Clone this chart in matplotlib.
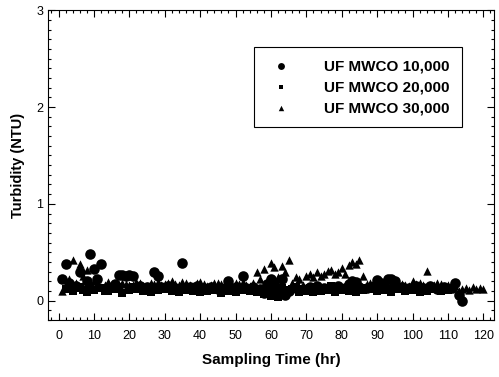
import matplotlib
matplotlib.use("Agg")
import matplotlib.pyplot as plt
from matplotlib.ticker import MultipleLocator

plt.rcParams['font.family'] = ['Liberation Sans', 'DejaVu Sans']

# UF MWCO 10,000 (circles)
c_x = [1, 2, 3, 5, 6, 8, 9, 10, 11, 12, 14, 16, 17, 18, 19, 20, 21, 23, 25, 27, 28, 29,
       31, 33, 35, 37, 39, 41, 43, 45, 47, 48, 50, 52, 53, 55, 57, 58, 59, 60, 61, 62,
       63, 64, 65, 67, 69, 71, 73, 75, 77, 79, 81, 82, 83, 84, 85, 87, 89, 90, 91, 92,
       93, 94, 95, 97, 99, 101, 103, 105, 107, 109, 111, 112, 113, 114]
c_y = [0.22, 0.38, 0.18, 0.15, 0.30, 0.20, 0.48, 0.33, 0.22, 0.38, 0.14, 0.17, 0.27, 0.27,
       0.26, 0.27, 0.26, 0.15, 0.14, 0.30, 0.25, 0.14, 0.15, 0.13, 0.39, 0.14, 0.15, 0.13,
       0.14, 0.12, 0.13, 0.20, 0.14, 0.25, 0.13, 0.14, 0.12, 0.08, 0.17, 0.22, 0.18, 0.06,
       0.22, 0.06, 0.10, 0.13, 0.12, 0.14, 0.15, 0.13, 0.14, 0.15, 0.13, 0.17, 0.20, 0.19,
       0.14, 0.13, 0.15, 0.21, 0.18, 0.16, 0.22, 0.22, 0.20, 0.14, 0.13, 0.15, 0.13, 0.15,
       0.12, 0.14, 0.13, 0.18, 0.06, 0.00]

# UF MWCO 20,000 (squares)
s_x = [2, 3, 4, 5, 6, 7, 8, 9, 10, 12, 13, 14, 16, 17, 18, 20, 21, 22, 24, 25, 26, 28, 29,
       30, 32, 33, 34, 36, 37, 38, 40, 41, 42, 44, 45, 46, 48, 49, 50, 52, 53, 54, 56, 57,
       58, 59, 60, 61, 62, 63, 64, 65, 66, 67, 68, 69, 70, 71, 72, 73, 74, 75, 76, 77, 78,
       79, 80, 81, 82, 83, 84, 86, 87, 88, 90, 91, 92, 94, 95, 96, 98, 99, 100, 102, 103,
       104, 106, 107, 108, 110]
s_y = [0.12, 0.15, 0.10, 0.13, 0.14, 0.11, 0.09, 0.13, 0.11, 0.13, 0.10, 0.10, 0.12, 0.14,
       0.08, 0.11, 0.14, 0.12, 0.10, 0.13, 0.09, 0.11, 0.14, 0.12, 0.10, 0.13, 0.09, 0.11,
       0.13, 0.10, 0.09, 0.12, 0.10, 0.11, 0.13, 0.08, 0.10, 0.12, 0.09, 0.11, 0.13, 0.10,
       0.09, 0.12, 0.07, 0.12, 0.05, 0.10, 0.04, 0.13, 0.06, 0.11, 0.12, 0.14, 0.09, 0.12,
       0.10, 0.13, 0.09, 0.14, 0.10, 0.13, 0.11, 0.15, 0.09, 0.14, 0.11, 0.13, 0.10, 0.12,
       0.09, 0.11, 0.13, 0.12, 0.10, 0.13, 0.11, 0.09, 0.12, 0.12, 0.10, 0.13, 0.11, 0.09,
       0.12, 0.10, 0.12, 0.12, 0.10, 0.11]

# UF MWCO 30,000 (triangles)
t_x = [1, 2, 3, 4, 5, 6, 7, 8, 9, 10, 11, 12, 13, 14, 15, 16, 17, 18, 19, 20, 21, 22, 23,
       24, 25, 26, 27, 28, 29, 30, 31, 32, 33, 34, 35, 36, 37, 38, 39, 40, 41, 42, 43, 44,
       45, 46, 47, 48, 49, 50, 51, 52, 53, 54, 55, 56, 57, 58, 59, 60, 61, 62, 63, 64, 65,
       66, 67, 68, 69, 70, 71, 72, 73, 74, 75, 76, 77, 78, 79, 80, 81, 82, 83, 84, 85, 86,
       87, 88, 89, 90, 91, 92, 93, 94, 95, 96, 97, 98, 99, 100, 101, 102, 103, 104, 105,
       106, 107, 108, 109, 110, 111, 112, 113, 114, 115, 116, 117, 118, 119, 120]
t_y = [0.10, 0.16, 0.22, 0.42, 0.18, 0.38, 0.25, 0.32, 0.15, 0.20, 0.18, 0.14, 0.16, 0.19,
       0.17, 0.15, 0.15, 0.18, 0.17, 0.16, 0.16, 0.19, 0.18, 0.15, 0.15, 0.18, 0.17, 0.19,
       0.16, 0.17, 0.18, 0.20, 0.17, 0.16, 0.19, 0.18, 0.16, 0.15, 0.18, 0.19, 0.17, 0.15,
       0.16, 0.18, 0.18, 0.17, 0.17, 0.15, 0.15, 0.18, 0.17, 0.19, 0.16, 0.15, 0.18, 0.30,
       0.22, 0.33, 0.20, 0.39, 0.35, 0.24, 0.36, 0.30, 0.42, 0.18, 0.24, 0.22, 0.16, 0.26,
       0.28, 0.24, 0.30, 0.26, 0.28, 0.31, 0.32, 0.28, 0.30, 0.34, 0.28, 0.37, 0.40, 0.38,
       0.42, 0.25, 0.17, 0.18, 0.15, 0.16, 0.18, 0.19, 0.15, 0.17, 0.16, 0.18, 0.17, 0.16,
       0.15, 0.20, 0.17, 0.18, 0.16, 0.31, 0.16, 0.16, 0.18, 0.17, 0.15, 0.16, 0.14, 0.15,
       0.10, 0.12, 0.13, 0.11, 0.14, 0.12, 0.13, 0.12]

labels = ['UF MWCO 10,000', 'UF MWCO 20,000', 'UF MWCO 30,000']

fig = plt.figure(figsize=(4.99, 3.77), dpi=100)
ax = fig.add_axes([0.096, 0.151, 0.894, 0.822])

ax.scatter(c_x, c_y, marker='o', s=58, color='black', linewidths=0, label=labels[0], zorder=3)
ax.scatter(s_x, s_y, marker='s', s=30, color='black', linewidths=0, label=labels[1], zorder=3)
ax.scatter(t_x, t_y, marker='^', s=36, color='black', linewidths=0, label=labels[2], zorder=3)

ax.set_xlim(-3, 123)
ax.set_ylim(-0.2, 3)
ax.xaxis.set_major_locator(MultipleLocator(10))
ax.xaxis.set_minor_locator(MultipleLocator(2))
ax.yaxis.set_major_locator(MultipleLocator(1))
ax.yaxis.set_minor_locator(MultipleLocator(0.1))
ax.tick_params(which='both', direction='in', top=True, right=True, labelsize=9, width=0.8)
ax.tick_params(which='major', length=5)
ax.tick_params(which='minor', length=2.5)
ax.tick_params(axis='x', pad=7)

ax.set_xlabel('Sampling Time (hr)', fontsize=11, fontweight='bold', labelpad=8)
ax.set_ylabel('Turbidity (NTU)', fontsize=10.5, fontweight='bold', labelpad=8)

leg = ax.legend(loc='upper right', bbox_to_anchor=(0.928, 0.881), frameon=True,
                fancybox=False, edgecolor='black', framealpha=1,
                prop={'weight': 'bold', 'size': 11}, handletextpad=1.8,
                borderpad=0.8, labelspacing=0.45, markerscale=0.65,
                borderaxespad=0)
leg.get_frame().set_linewidth(0.8)

fig.savefig('out.png', dpi=100)
